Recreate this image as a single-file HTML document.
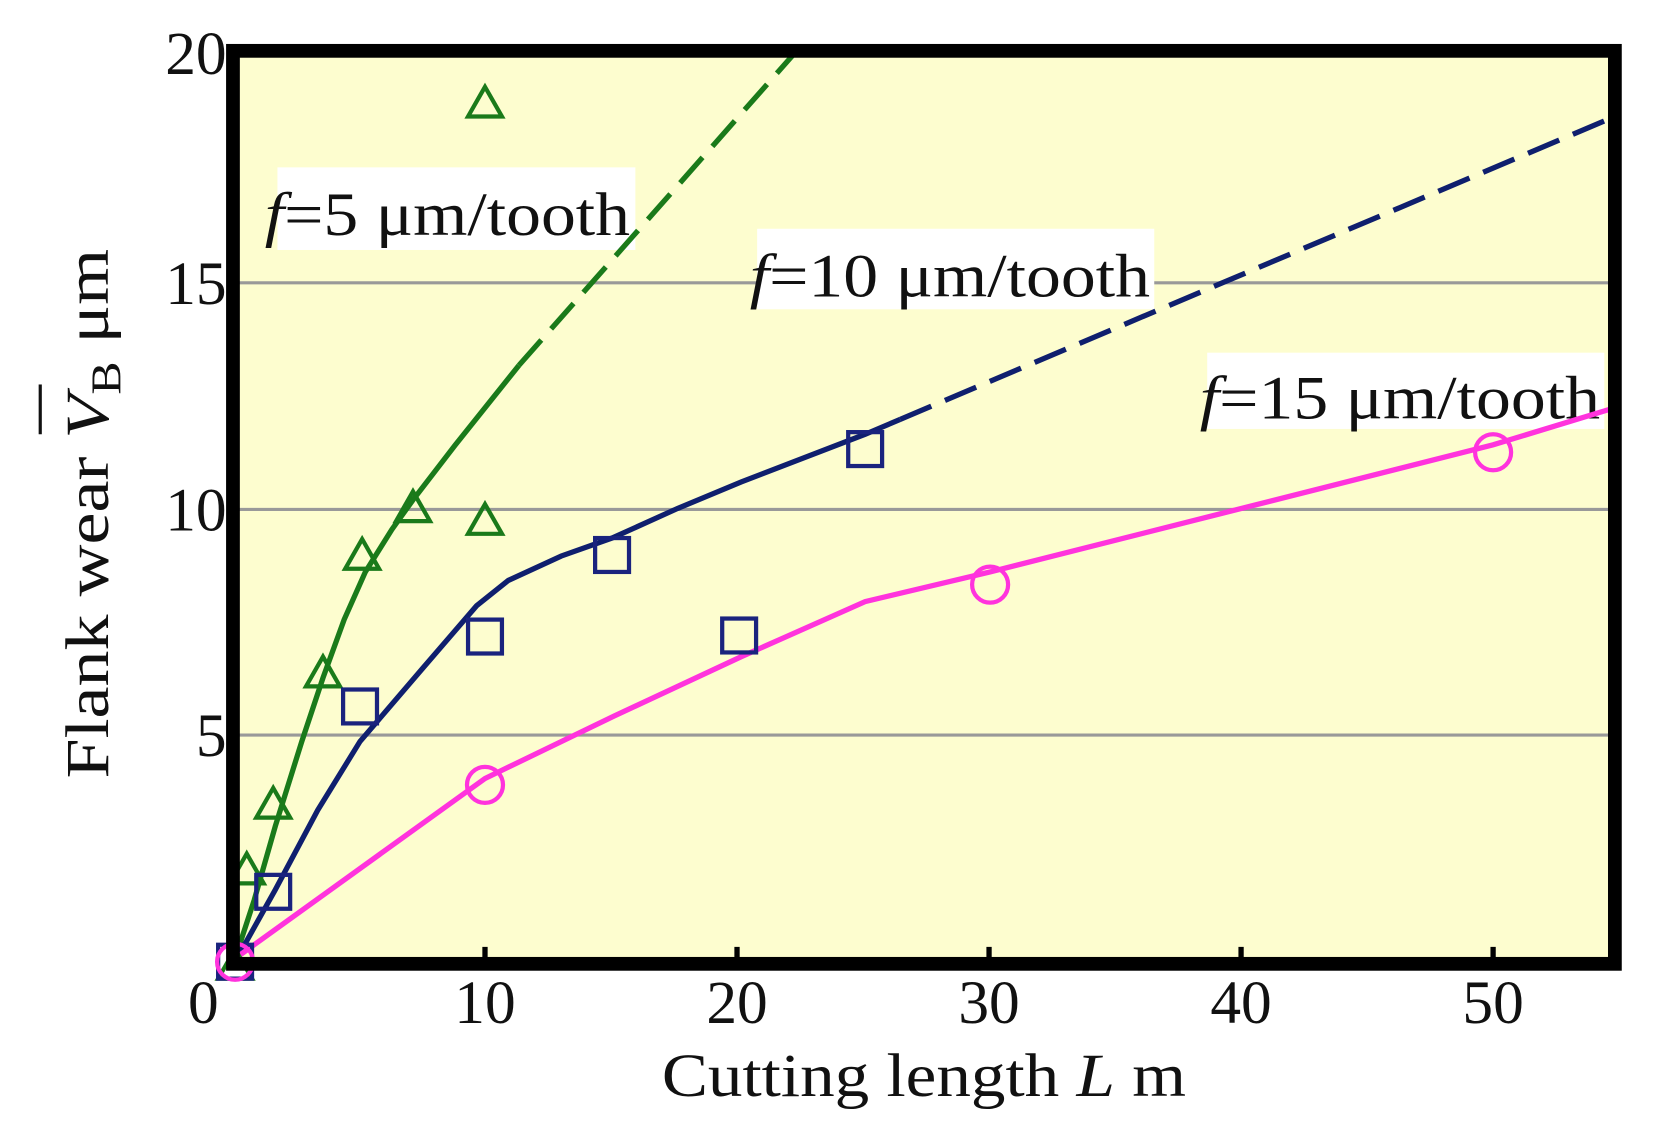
<!DOCTYPE html>
<html><head><meta charset="utf-8"><style>html,body{margin:0;padding:0;background:#fff}svg{display:block}</style></head>
<body>
<svg width="1653" height="1128" viewBox="0 0 1561 1065" preserveAspectRatio="none" xmlns="http://www.w3.org/2000/svg" font-family="'Liberation Serif',serif">
<rect x="220" y="48" width="1305" height="862" fill="#fdfdcf"/>
<g stroke="#999" stroke-width="3">
<line x1="226" y1="267" x2="1519" y2="267"/>
<line x1="226" y1="481" x2="1519" y2="481"/>
<line x1="226" y1="694" x2="1519" y2="694"/>
</g>
<g stroke="#000" stroke-width="5">
<line x1="458" y1="904" x2="458" y2="894"/><line x1="696" y1="904" x2="696" y2="894"/>
<line x1="934" y1="904" x2="934" y2="894"/><line x1="1172" y1="904" x2="1172" y2="894"/>
<line x1="1410" y1="904" x2="1410" y2="894"/>
</g>
<rect x="262" y="158" width="338" height="78" fill="#fff"/>
<rect x="715" y="216" width="375" height="76" fill="#fff"/>
<rect x="1140" y="333" width="375" height="72" fill="#fff"/>
<g font-size="58" fill="#111">
<text x="250" y="222" textLength="345" lengthAdjust="spacingAndGlyphs"><tspan font-style="italic">f</tspan>=5 μm/tooth</text>
<text x="708" y="280" textLength="378" lengthAdjust="spacingAndGlyphs"><tspan font-style="italic">f</tspan>=10 μm/tooth</text>
<text x="1133" y="395" textLength="378" lengthAdjust="spacingAndGlyphs"><tspan font-style="italic">f</tspan>=15 μm/tooth</text>
</g>
<path d="M222,905 L240,850 L260,780 L285,700 L305,640 L325,585 L345,540 L370,500 L390,472 L430,420 L490,345" fill="none" stroke="#1a7a1a" stroke-width="5"/>
<path d="M490,345 L755,45" fill="none" stroke="#1a7a1a" stroke-width="5" stroke-dasharray="32,14"/>
<path d="M222,908 L260,840 L300,765 L340,700 L400,630 L450,572 L480,548 L530,525 L578,508 L640,480 L700,455 L817,410 L850,396" fill="none" stroke="#0f1f6e" stroke-width="5"/>
<path d="M850,396 L1525,110" fill="none" stroke="#0f1f6e" stroke-width="5" stroke-dasharray="32,14"/>
<path d="M222,905 L458,735 L580,676 L700,620 L817,568 L935,540 L1410,420 L1525,385" fill="none" stroke="#ff33dd" stroke-width="5"/>
<g fill="none" stroke="#1a7a1a" stroke-width="4">
<path d="M222,896 l-16,28 h32z"/><path d="M233,806 l-16,28 h32z"/><path d="M258,744 l-16,28 h32z"/>
<path d="M305,620 l-16,28 h32z"/><path d="M342,509 l-16,28 h32z"/><path d="M390,464 l-16,28 h32z"/>
<path d="M458,476 l-16,28 h32z"/><path d="M458,82 l-16,28 h32z"/>
</g>
<g fill="none" stroke="#1a237e" stroke-width="4">
<rect x="206" y="892" width="32" height="32"/><rect x="242" y="826" width="32" height="32"/>
<rect x="324" y="651" width="32" height="32"/><rect x="442" y="585" width="32" height="32"/>
<rect x="562" y="508" width="32" height="32"/><rect x="682" y="584" width="32" height="32"/>
<rect x="801" y="408" width="32" height="32"/>
</g>
<g fill="none" stroke="#ff33dd" stroke-width="4">
<circle cx="222" cy="908" r="17"/><circle cx="458" cy="741" r="17"/>
<circle cx="935" cy="552" r="17"/><circle cx="1410" cy="427" r="17"/>
</g>
<rect x="220" y="48" width="1305" height="862" fill="none" stroke="#000" stroke-width="13"/>
<g font-size="58" fill="#111" text-anchor="end">
<text x="214" y="70">20</text><text x="214" y="287">15</text><text x="214" y="501">10</text><text x="214" y="714">5</text>
</g>
<g font-size="58" fill="#111" text-anchor="middle">
<text x="192" y="966">0</text><text x="458" y="966">10</text><text x="696" y="966">20</text>
<text x="934" y="966">30</text><text x="1172" y="966">40</text><text x="1410" y="966">50</text>
</g>
<text x="625" y="1035" font-size="58" fill="#111" textLength="495" lengthAdjust="spacingAndGlyphs">Cutting length <tspan font-style="italic">L</tspan>  m</text>
<g transform="translate(102,735) rotate(-90)" fill="#111">
<text x="0" y="0" font-size="58" textLength="500" lengthAdjust="spacingAndGlyphs">Flank wear  <tspan font-style="italic">V</tspan><tspan font-size="40" dy="12">B</tspan><tspan dy="-12">  μm</tspan></text>
<line x1="325" y1="-64" x2="372" y2="-64" stroke="#111" stroke-width="3"/>
</g>
</svg>
</body></html>
